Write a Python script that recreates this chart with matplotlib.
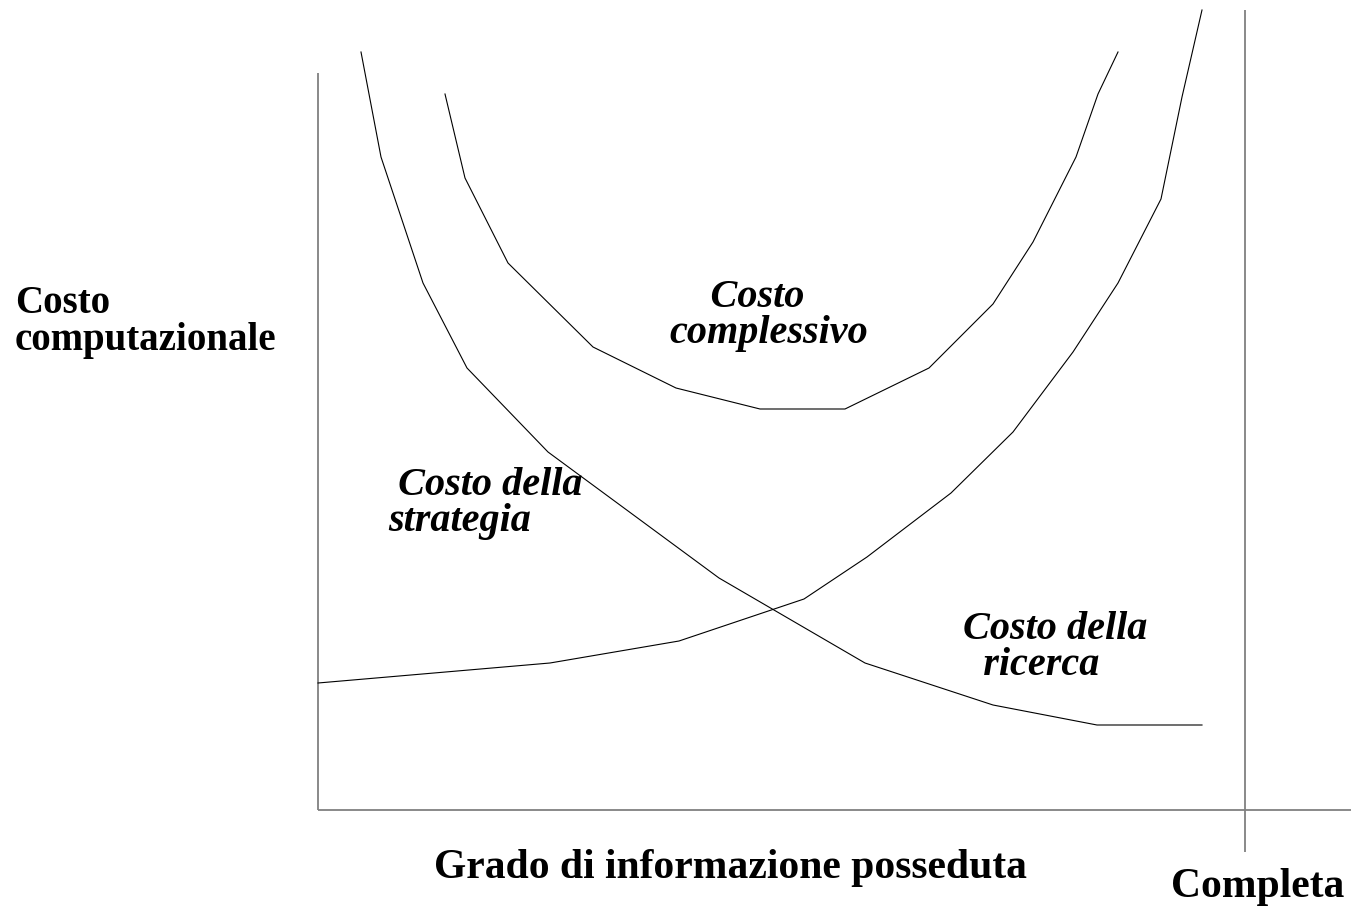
import matplotlib
matplotlib.use("Agg")
import matplotlib.pyplot as plt

# Data (schematic units: x = degree of information, y = computational cost)
info_ricerca = [43, 63, 105, 149, 230, 401, 547, 675, 779, 884]
costo_ricerca = [758, 653, 527, 442, 358, 232, 147, 105, 85, 85]

info_strategia = [0, 232, 361, 486, 549, 633, 695, 755, 800, 843, 864, 884]
costo_strategia = [127, 147, 169, 211, 253, 317, 378, 458, 527, 611, 713, 800]

info_complessivo = [127, 147, 190, 275, 358, 442, 527, 611, 675, 715, 758, 780, 800]
costo_complessivo = [716, 632, 547, 463, 422, 401, 401, 442, 506, 568, 653, 716, 758]

x_axis_end = 1033
y_axis_end = 737
completa_x = 927
completa_y = [-42, 800]

fig = plt.figure(figsize=(13.51, 9.06), dpi=100)
ax = fig.add_axes([0, 0, 1, 1])
ax.set_xlim(-318, 1033)
ax.set_ylim(-96, 810)
ax.axis("off")

axis_col = "#808080"
ax.plot([0, 0], [0, y_axis_end], color=axis_col, lw=1.3, solid_capstyle="butt")
ax.plot([0, x_axis_end], [0, 0], color=axis_col, lw=1.3, solid_capstyle="butt")
ax.plot([completa_x, completa_x], completa_y, color=axis_col, lw=1.3, solid_capstyle="butt")

for xs, ys in [(info_ricerca, costo_ricerca),
               (info_strategia, costo_strategia),
               (info_complessivo, costo_complessivo)]:
    ax.plot(xs, ys, color="black", lw=0.8)

serif = ["Liberation Serif", "DejaVu Serif"]
bi = dict(family=serif, weight="bold", style="italic", fontsize=29, color="black",
          va="baseline", linespacing=0.97)
b = dict(family=serif, weight="bold", color="black", va="baseline")

# axis labels
ax.text(-303, 460, "Costo\ncomputazionale", ha="left", fontsize=28, linespacing=1.0,
        multialignment="left", **b)
ax.text(413, -68, "Grado di informazione posseduta", ha="center", fontsize=30, **b)
ax.text(940, -87, "Completa", ha="center", fontsize=30, **b)

# curve labels
ax.text(451, 467, "    Costo\ncomplessivo", ha="center", multialignment="left", **bi)
ax.text(70, 279, " Costo della\nstrategia", ha="left", multialignment="left", **bi)
ax.text(645, 135, "Costo della\n  ricerca", ha="left", multialignment="left", **bi)

fig.savefig("out.png", dpi=100)
